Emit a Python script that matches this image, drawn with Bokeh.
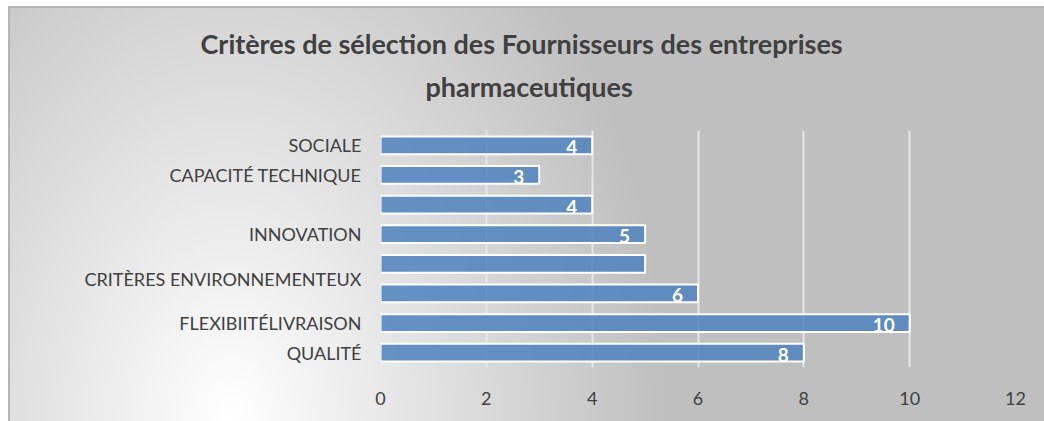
from bokeh.plotting import figure
from bokeh.models import ColumnDataSource, FixedTicker, LabelSet, Range1d, Title
from bokeh.core.properties import value
from bokeh.embed import file_html
from bokeh.resources import INLINE

# ---- data (bottom to top) ----
categories = ["QUALITÉ", "FLEXIBIITÉLIVRAISON", "", "CRITÈRES ENVIRONNEMENTEUX",
              "INNOVATION", "", "CAPACITÉ TECHNIQUE", "SOCIALE"]
values = [8, 10, 6, 5, 5, 4, 3, 4]
value_labels = ["8", "10", "6", "", "5", "4", "3", "4"]
x_ticks = [0, 2, 4, 6, 8, 10, 12]
title_lines = ["Critères de sélection des Fournisseurs des entreprises", "pharmaceutiques"]

pos = list(range(1, len(categories) + 1))
src = ColumnDataSource(dict(y=pos, v=values, lab=value_labels))

p = figure(width=1044, height=421, output_backend="svg", toolbar_location=None,
           x_range=Range1d(0, 12), y_range=Range1d(0.5, 8.5),
           min_border_left=380, min_border_right=29, min_border_top=130, min_border_bottom=54)
p.border_fill_color = None
p.background_fill_color = None
p.outline_line_color = None
p.styles = {
    "background": "radial-gradient(ellipse 42% 150% at 22% 100%, #ffffff 0%, #e2e2e2 45%, #bfbfbf 100%)",
    "box-shadow": "inset 8px 6px 0 #ffffff, inset 10px 8px 0 #b4b4b4",
}

# grid
p.ygrid.grid_line_color = None
p.xgrid.ticker = FixedTicker(ticks=x_ticks)
p.xgrid.grid_line_color = "#e6e6e6"
p.xgrid.grid_line_width = 2

# bars
p.hbar(y="y", right="v", left=0, height=0.6, source=src,
       fill_color="#4F81BD", fill_alpha=0.85, line_color="white", line_width=2)

p.add_layout(LabelSet(x="v", y="y", text="lab", source=src, x_offset=-15, y_offset=-2,
                      text_align="right", text_baseline="middle", text_color="white",
                      text_font=value("Lato"), text_font_style="bold", text_font_size="19px"))

# x axis
xa = p.xaxis[0]
xa.ticker = FixedTicker(ticks=x_ticks)
xa.axis_line_color = None
xa.major_tick_line_color = None
xa.minor_tick_line_color = None
xa.major_label_standoff = 18
xa.major_label_text_font = "Lato"
xa.major_label_text_font_size = "18px"
xa.major_label_text_color = "#404040"

# y axis: category labels (the environment label sits between its two bars)
ya = p.yaxis[0]
tick_pos = []
overrides = {}
for i, c in enumerate(categories):
    if c:
        t = pos[i] - 0.5 if c.startswith("CRITÈRES") else pos[i]
        tick_pos.append(t)
        overrides[t] = c
ya.ticker = FixedTicker(ticks=tick_pos)
ya.major_label_overrides = overrides
ya.axis_line_color = None
ya.major_tick_line_color = None
ya.minor_tick_line_color = None
ya.major_label_standoff = 13
ya.major_label_text_font = "Lato"
ya.major_label_text_font_size = "18px"
ya.major_label_text_color = "#404040"

# title: two stacked titles (first added sits closest to the frame)
p.add_layout(Title(text=title_lines[1], align="left", offset=45, standoff=56,
                   text_color="#404040", text_font="Lato", text_font_style="bold",
                   text_font_size="27px"), "above")
p.add_layout(Title(text=title_lines[0], align="left", offset=-180, standoff=-40,
                   text_color="#404040", text_font="Lato", text_font_style="bold",
                   text_font_size="27px"), "above")

open("out.html", "w").write(file_html(p, INLINE))
